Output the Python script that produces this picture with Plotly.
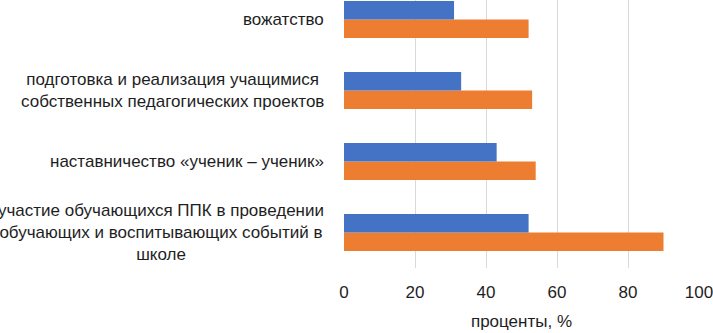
import plotly.graph_objects as go

categories = [
    "участие обучающихся ППК в проведении<br>обучающих и воспитывающих событий в<br>школе",
    "наставничество «ученик – ученик»",
    "подготовка и реализация учащимися<br>собственных педагогических проектов",
    "вожатство",
]
cat_keys = ["c1", "c2", "c3", "c4"]
blue_values = [52, 43, 33, 31]
orange_values = [90, 54, 53, 52]
x_ticks = [0, 20, 40, 60, 80, 100]
x_title = "проценты, %"

FONT = "Liberation Sans"
TXT = "#1e1e1e"
FS = 17

fig = go.Figure()
fig.add_trace(go.Bar(y=cat_keys, x=orange_values, orientation="h",
                     marker=dict(color="#ED7D31", line=dict(width=0)), name="orange"))
fig.add_trace(go.Bar(y=cat_keys, x=blue_values, orientation="h",
                     marker=dict(color="#4472C4", line=dict(width=0)), name="blue"))

for key, label in zip(cat_keys, categories):
    fig.add_annotation(x=0, xref="paper", xshift=-18, y=key, yref="y",
                       text=label, showarrow=False, xanchor="right", yanchor="middle",
                       align="center", font=dict(family=FONT, size=FS, color=TXT))

fig.update_layout(
    width=713, height=333,
    margin=dict(l=344, r=14, t=0, b=65, autoexpand=False),
    paper_bgcolor="white", plot_bgcolor="white",
    barmode="group", bargap=0.48, bargroupgap=0,
    showlegend=False,
    font=dict(family=FONT, size=FS, color=TXT),
    xaxis=dict(range=[0, 100], tickvals=x_ticks, showgrid=True, gridcolor="#D9D9D9",
               gridwidth=1, zeroline=False, showline=False, automargin=False,
               ticklabelstandoff=12, ticklabeloverflow="allow",
               tickfont=dict(family=FONT, size=FS, color=TXT),
               title=dict(text=x_title, font=dict(family=FONT, size=FS, color=TXT), standoff=14)),
    yaxis=dict(type="category", categoryorder="array", categoryarray=cat_keys,
               range=[-0.5, 3.275], showticklabels=False, showgrid=False,
               zeroline=False, showline=False, automargin=False),
)

fig.write_html("out.html", config={"displayModeBar": False},
               post_script="document.body.style.margin='0';document.body.style.overflow='hidden';")
